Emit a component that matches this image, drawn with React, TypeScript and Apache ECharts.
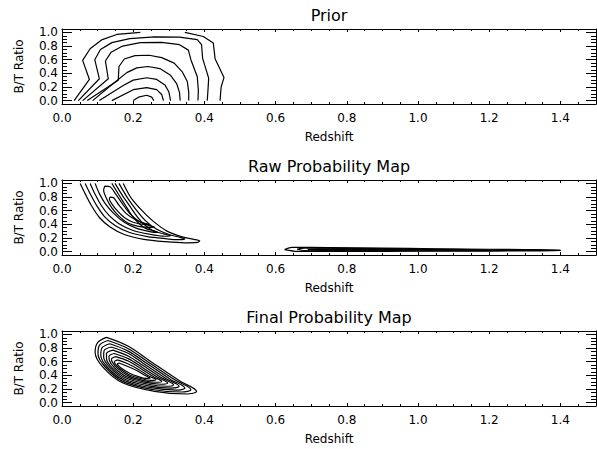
import React, { useEffect, useRef } from 'react';
import * as echarts from 'echarts';

const FONT = 'DejaVu Sans';

const panelTitles = ['Prior', 'Raw Probability Map', 'Final Probability Map'];
const xAxisTitle = 'Redshift';
const yAxisTitle = 'B/T Ratio';

const xMajorTicks = [0, 0.2, 0.4, 0.6, 0.8, 1.0, 1.2, 1.4];
const xMinorTicks = [0.05, 0.1, 0.15, 0.25, 0.3, 0.35, 0.45, 0.5, 0.55, 0.65, 0.7, 0.75, 0.85, 0.9, 0.95, 1.05, 1.1, 1.15, 1.25, 1.3, 1.35, 1.45];
const yMajorTicks = [0, 0.2, 0.4, 0.6, 0.8, 1.0];
const yMinorTicks = [0.05, 0.1, 0.15, 0.25, 0.3, 0.35, 0.45, 0.5, 0.55, 0.65, 0.7, 0.75, 0.85, 0.9, 0.95];

// Prior contours (redshift, B/T)
const priorContours = [
  [[0.034, 0], [0.077, 0.31], [0.058, 0.59], [0.079, 0.76], [0.111, 0.89], [0.154, 0.97], [0.22, 1.0]],
  [[0.345, 1.0], [0.397, 0.94], [0.425, 0.845], [0.43, 0.615], [0.455, 0.337], [0.447, 0.2], [0.444, 0]],
  [[0.046, 0], [0.105, 0.32], [0.092, 0.6], [0.108, 0.75], [0.14, 0.85], [0.19, 0.91], [0.26, 0.935], [0.33, 0.93], [0.38, 0.895], [0.392, 0.82], [0.395, 0.62], [0.412, 0.33], [0.41, 0.15], [0.408, 0]],
  [[0.058, 0], [0.13, 0.32], [0.122, 0.58], [0.138, 0.71], [0.17, 0.8], [0.22, 0.85], [0.28, 0.855], [0.33, 0.82], [0.355, 0.74], [0.362, 0.6], [0.38, 0.35], [0.383, 0.15], [0.382, 0]],
  [[0.071, 0], [0.158, 0.3], [0.16, 0.5], [0.175, 0.61], [0.205, 0.66], [0.245, 0.665], [0.28, 0.63], [0.315, 0.55], [0.338, 0.42], [0.352, 0.28], [0.356, 0.12], [0.356, 0]],
  [[0.086, 0], [0.144, 0.25], [0.182, 0.41], [0.21, 0.48], [0.242, 0.5], [0.275, 0.47], [0.305, 0.37], [0.322, 0.25], [0.33, 0.12], [0.332, 0]],
  [[0.105, 0], [0.172, 0.22], [0.2, 0.3], [0.238, 0.335], [0.266, 0.31], [0.289, 0.23], [0.3, 0.13], [0.305, 0]],
  [[0.14, 0], [0.2, 0.16], [0.238, 0.19], [0.266, 0.16], [0.28, 0.09], [0.285, 0]],
  [[0.2, 0], [0.215, 0.05], [0.238, 0.078], [0.252, 0.05], [0.258, 0]],
];

// Raw probability map contours
const rawLowZContours = [
  [[0.051, 1.0], [0.065, 0.85], [0.082, 0.68], [0.105, 0.5], [0.135, 0.36], [0.175, 0.25], [0.23, 0.18], [0.29, 0.145], [0.345, 0.128], [0.38, 0.135], [0.387, 0.155], [0.37, 0.18], [0.335, 0.22], [0.295, 0.3], [0.255, 0.45], [0.225, 0.6], [0.195, 0.78], [0.172, 1.0]],
  [[0.065, 1.0], [0.08, 0.84], [0.098, 0.67], [0.12, 0.51], [0.15, 0.38], [0.19, 0.28], [0.24, 0.22], [0.29, 0.19], [0.33, 0.175], [0.345, 0.185], [0.33, 0.21], [0.3, 0.25], [0.265, 0.33], [0.235, 0.45], [0.21, 0.6], [0.185, 0.78], [0.16, 1.0]],
  [[0.079, 1.0], [0.093, 0.84], [0.11, 0.68], [0.132, 0.53], [0.16, 0.41], [0.2, 0.31], [0.245, 0.255], [0.29, 0.225], [0.305, 0.235], [0.285, 0.26], [0.255, 0.31], [0.23, 0.4], [0.21, 0.52], [0.19, 0.67], [0.17, 0.82], [0.149, 1.0]],
  [[0.093, 1.0], [0.105, 0.85], [0.122, 0.7], [0.145, 0.56], [0.175, 0.43], [0.21, 0.34], [0.25, 0.29], [0.27, 0.28], [0.26, 0.3], [0.235, 0.34], [0.215, 0.42], [0.195, 0.54], [0.178, 0.68], [0.16, 0.83], [0.14, 1.0]],
  [[0.12, 0.96], [0.135, 0.95], [0.15, 0.85], [0.17, 0.7], [0.19, 0.56], [0.215, 0.45], [0.245, 0.38], [0.26, 0.36], [0.245, 0.355], [0.215, 0.37], [0.185, 0.42], [0.16, 0.52], [0.14, 0.64], [0.125, 0.78], [0.117, 0.9], [0.12, 0.96]],
  [[0.135, 0.8], [0.145, 0.79], [0.16, 0.68], [0.18, 0.56], [0.205, 0.47], [0.235, 0.41], [0.245, 0.4], [0.23, 0.4], [0.2, 0.43], [0.175, 0.5], [0.155, 0.6], [0.14, 0.7], [0.133, 0.77], [0.135, 0.8]],
];
const rawHighZContours = [
  [[0.625, 0.03], [0.645, 0.062], [0.75, 0.06], [0.9, 0.051], [1.05, 0.042], [1.2, 0.034], [1.3, 0.029], [1.4, 0.025], [1.4, 0.012], [1.2, 0.008], [1.0, 0.005], [0.8, 0.003], [0.66, 0.003], [0.625, 0.03]],
  [[0.66, 0.034], [0.68, 0.05], [0.8, 0.047], [1.0, 0.037], [1.2, 0.027], [1.35, 0.02], [1.2, 0.014], [1.0, 0.012], [0.8, 0.012], [0.68, 0.015], [0.66, 0.034]],
  [[0.69, 0.032], [0.72, 0.04], [0.85, 0.036], [1.0, 0.03], [1.15, 0.024], [1.0, 0.02], [0.85, 0.02], [0.72, 0.022], [0.69, 0.032]],
  [[0.72, 0.03], [0.8, 0.033], [0.95, 0.028], [0.8, 0.026], [0.72, 0.03]],
];

// Final probability map contours (outer to inner)
const finalContours = [
  [[0.125, 0.957], [0.185, 0.83], [0.25, 0.6], [0.33, 0.32], [0.378, 0.165], [0.35, 0.126], [0.26, 0.165], [0.17, 0.29], [0.115, 0.52], [0.093, 0.74], [0.1, 0.88], [0.125, 0.957]],
  [[0.129, 0.91], [0.186, 0.79], [0.245, 0.584], [0.318, 0.33], [0.362, 0.19], [0.336, 0.155], [0.254, 0.192], [0.172, 0.308], [0.122, 0.518], [0.101, 0.716], [0.105, 0.84], [0.129, 0.91]],
  [[0.134, 0.863], [0.186, 0.755], [0.24, 0.568], [0.305, 0.34], [0.345, 0.214], [0.321, 0.183], [0.249, 0.219], [0.175, 0.325], [0.128, 0.515], [0.109, 0.693], [0.112, 0.8], [0.134, 0.863]],
  [[0.138, 0.816], [0.187, 0.72], [0.235, 0.551], [0.293, 0.35], [0.329, 0.238], [0.307, 0.212], [0.243, 0.246], [0.177, 0.343], [0.135, 0.513], [0.117, 0.669], [0.118, 0.76], [0.138, 0.816]],
  [[0.143, 0.77], [0.187, 0.68], [0.23, 0.535], [0.281, 0.36], [0.313, 0.263], [0.293, 0.24], [0.238, 0.273], [0.18, 0.36], [0.141, 0.51], [0.125, 0.645], [0.125, 0.72], [0.143, 0.77]],
  [[0.147, 0.72], [0.186, 0.645], [0.225, 0.519], [0.269, 0.37], [0.297, 0.287], [0.278, 0.269], [0.232, 0.299], [0.182, 0.378], [0.148, 0.508], [0.133, 0.621], [0.132, 0.68], [0.147, 0.72]],
  [[0.151, 0.675], [0.186, 0.61], [0.22, 0.503], [0.257, 0.38], [0.28, 0.311], [0.264, 0.298], [0.226, 0.326], [0.185, 0.395], [0.155, 0.505], [0.141, 0.598], [0.139, 0.64], [0.151, 0.675]],
  [[0.156, 0.627], [0.185, 0.57], [0.215, 0.486], [0.244, 0.39], [0.264, 0.336], [0.249, 0.326], [0.221, 0.353], [0.187, 0.413], [0.161, 0.503], [0.149, 0.574], [0.147, 0.6], [0.156, 0.627]],
  [[0.16, 0.58], [0.185, 0.53], [0.21, 0.47], [0.232, 0.4], [0.248, 0.36], [0.235, 0.355], [0.215, 0.38], [0.19, 0.43], [0.168, 0.5], [0.157, 0.55], [0.156, 0.57], [0.16, 0.58]],
];

const panelTops = [29, 180, 331];
const GRID_LEFT = 62;
const GRID_WIDTH = 534;
const GRID_HEIGHT = 75;
const X_MIN = 0, X_MAX = 1.5, Y_MIN = -0.05, Y_MAX = 1.05;

const black = '#000';
const fmt = (v: number) => v.toFixed(1);

function makeXAxes(g: number) {
  const base = { gridIndex: g, type: 'value', min: X_MIN, max: X_MAX, splitLine: { show: false }, silent: true };
  return [
    {
      ...base, position: 'bottom',
      axisLine: { show: true, onZero: false, lineStyle: { color: black, width: 1 } },
      axisTick: { show: true, inside: true, length: 3, customValues: xMajorTicks, lineStyle: { color: black, width: 1 } },
      axisLabel: { show: true, customValues: xMajorTicks, formatter: fmt, color: black, fontSize: 12, fontFamily: FONT, margin: 8 },
      name: xAxisTitle, nameLocation: 'middle', nameGap: 27,
      nameTextStyle: { color: black, fontSize: 12, fontFamily: FONT },
    },
    {
      ...base, position: 'bottom',
      axisLine: { show: false, onZero: false },
      axisTick: { show: true, inside: true, length: 2, customValues: xMinorTicks, lineStyle: { color: black, width: 1 } },
      axisLabel: { show: false },
    },
    {
      ...base, position: 'top',
      axisLine: { show: true, onZero: false, lineStyle: { color: black, width: 1 } },
      axisTick: { show: true, inside: true, length: 3, customValues: xMajorTicks, lineStyle: { color: black, width: 1 } },
      axisLabel: { show: false },
    },
    {
      ...base, position: 'top',
      axisLine: { show: false, onZero: false },
      axisTick: { show: true, inside: true, length: 2, customValues: xMinorTicks, lineStyle: { color: black, width: 1 } },
      axisLabel: { show: false },
    },
  ];
}

function makeYAxes(g: number) {
  const base = { gridIndex: g, type: 'value', min: Y_MIN, max: Y_MAX, splitLine: { show: false }, silent: true };
  return [
    {
      ...base, position: 'left',
      axisLine: { show: true, onZero: false, lineStyle: { color: black, width: 1 } },
      axisTick: { show: true, inside: true, length: 10, customValues: yMajorTicks, lineStyle: { color: black, width: 1 } },
      axisLabel: { show: true, customValues: yMajorTicks, formatter: fmt, color: black, fontSize: 12, fontFamily: FONT, margin: 4 },
      name: yAxisTitle, nameLocation: 'middle', nameGap: 37, nameRotate: 90,
      nameTextStyle: { color: black, fontSize: 12, fontFamily: FONT },
    },
    {
      ...base, position: 'left',
      axisLine: { show: false, onZero: false },
      axisTick: { show: true, inside: true, length: 5, customValues: yMinorTicks, lineStyle: { color: black, width: 1 } },
      axisLabel: { show: false },
    },
    {
      ...base, position: 'right',
      axisLine: { show: true, onZero: false, lineStyle: { color: black, width: 1 } },
      axisTick: { show: true, inside: true, length: 10, customValues: yMajorTicks, lineStyle: { color: black, width: 1 } },
      axisLabel: { show: false },
    },
    {
      ...base, position: 'right',
      axisLine: { show: false, onZero: false },
      axisTick: { show: true, inside: true, length: 5, customValues: yMinorTicks, lineStyle: { color: black, width: 1 } },
      axisLabel: { show: false },
    },
  ];
}

function contourSeries(lines: number[][][], g: number, smooth: number | boolean, name: string) {
  return lines.map((pts, i) => ({
    type: 'line',
    name: `${name}-${i + 1}`,
    xAxisIndex: g * 4,
    yAxisIndex: g * 4,
    data: pts,
    symbol: 'none',
    showSymbol: false,
    smooth,
    clip: true,
    silent: true,
    lineStyle: { color: black, width: 1.2 },
  }));
}

export default function App() {
  const ref = useRef<HTMLDivElement>(null);
  useEffect(() => {
    if (!ref.current) return;
    const chart = echarts.init(ref.current, null, { renderer: 'svg' });
    const option: any = {
      animation: false,
      backgroundColor: '#fff',
      grid: panelTops.map((top) => ({
        left: GRID_LEFT, top, width: GRID_WIDTH, height: GRID_HEIGHT,
        containLabel: false, outerBoundsMode: 'none',
      })),
      xAxis: [0, 1, 2].flatMap((g) => makeXAxes(g)),
      yAxis: [0, 1, 2].flatMap((g) => makeYAxes(g)),
      graphic: panelTitles.map((t, i) => ({
        type: 'text',
        x: GRID_LEFT + GRID_WIDTH / 2,
        y: panelTops[i] - 14,
        silent: true,
        style: { text: t, fill: black, fontSize: 16, fontFamily: FONT, align: 'center', verticalAlign: 'middle' },
      })),
      series: [
        ...contourSeries(priorContours, 0, false, 'prior'),
        ...contourSeries(rawLowZContours, 1, 0.3, 'rawLow'),
        ...contourSeries(rawHighZContours, 1, 0.2, 'rawHigh'),
        ...contourSeries(finalContours, 2, 0.35, 'final'),
      ],
    };
    chart.setOption(option);
    return () => chart.dispose();
  }, []);
  return (
    <div
      ref={ref}
      style={{ position: 'fixed', left: 0, top: 0, width: 597, height: 449, background: '#fff' }}
    />
  );
}
